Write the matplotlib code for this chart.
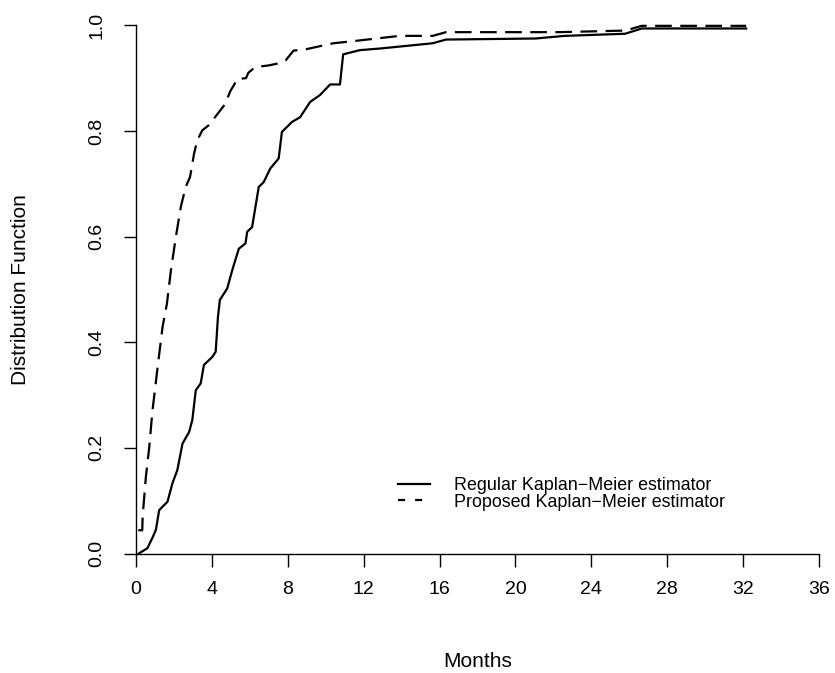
import matplotlib
matplotlib.use('Agg')
import matplotlib.pyplot as plt
from matplotlib.lines import Line2D

# Regular Kaplan-Meier estimator
reg_x = [0.15, 0.6, 0.87, 1.05, 1.22, 1.66, 1.92, 2.18, 2.45, 2.8, 2.97, 3.15, 3.41, 3.58,
         4.02, 4.2, 4.32, 4.42, 4.81, 5.07, 5.42, 5.77, 5.86, 6.12, 6.47, 6.73, 7.08, 7.52,
         7.69, 8.22, 8.65, 9.18, 9.7, 10.23, 10.75, 10.92, 11.8, 12.85, 15.64, 16.34, 21.06,
         22.6, 25.78, 26.66, 32.16]
reg_y = [0.0, 0.01, 0.03, 0.045, 0.082, 0.098, 0.133, 0.158, 0.208, 0.23, 0.253, 0.309, 0.322, 0.357,
         0.372, 0.382, 0.448, 0.48, 0.502, 0.536, 0.577, 0.587, 0.609, 0.618, 0.694, 0.703, 0.729, 0.748,
         0.798, 0.817, 0.826, 0.855, 0.868, 0.888, 0.888, 0.945, 0.953, 0.956, 0.966, 0.973, 0.975,
         0.98, 0.984, 0.994, 0.994]

# Proposed Kaplan-Meier estimator
prop_x = [0.12, 0.33, 0.35, 0.52, 0.7, 0.87, 1.14, 1.4, 1.63, 1.84, 2.1, 2.36, 2.62, 2.85,
          3.06, 3.23, 3.49, 3.84, 4.25, 4.68, 4.98, 5.15, 5.33, 5.8, 5.92, 6.29, 6.99, 7.52,
          7.9, 8.3, 9.0, 10.4, 11.45, 13.9, 15.64, 16.34, 22.3, 25.78, 26.66, 32.16]
prop_y = [0.044, 0.044, 0.07, 0.145, 0.202, 0.271, 0.353, 0.429, 0.473, 0.536, 0.599, 0.656, 0.694, 0.713,
          0.757, 0.782, 0.801, 0.811, 0.83, 0.85, 0.876, 0.886, 0.898, 0.9, 0.91, 0.921, 0.924, 0.928,
          0.934, 0.952, 0.955, 0.966, 0.970, 0.980, 0.980, 0.987, 0.987, 0.99, 0.999, 0.999]

xticks = [0, 4, 8, 12, 16, 20, 24, 28, 32, 36]
yticks = [0.0, 0.2, 0.4, 0.6, 0.8, 1.0]
labels = ['Regular Kaplan\u2212Meier estimator', 'Proposed Kaplan\u2212Meier estimator']

plt.rcParams['font.family'] = ['Liberation Sans', 'DejaVu Sans']

fig = plt.figure(figsize=(8.35, 6.73), dpi=100)
ax = fig.add_axes([136/835, 1-553.5/673, 683/835, 528.2/673])

lw = 1.6
ax.plot(reg_x, reg_y, color='black', lw=lw, clip_on=False)
ax.plot(prop_x, prop_y, color='black', lw=lw, ls=(0, (7.5, 3.8)), clip_on=False)

ax.set_xlim(0, 36)
ax.set_ylim(0, 1)
ax.set_xticks(xticks)
ax.set_yticks(yticks)
ax.set_yticklabels(['%.1f' % v for v in yticks], rotation=90, va='center')
for s in ['top', 'right']:
    ax.spines[s].set_visible(False)
for s in ['left', 'bottom']:
    ax.spines[s].set_linewidth(1.0)
ax.tick_params(axis='both', direction='out', length=9, width=1.0, labelsize=14)
ax.tick_params(axis='x', pad=11)
ax.tick_params(axis='y', pad=13)

ax.set_xlabel('Months', fontsize=15, va='top')
ax.xaxis.set_label_coords(0.5, (553.5-652)/528.2)
ax.set_ylabel('Distribution Function', fontsize=15, va='center')
ax.yaxis.set_label_coords((21-136)/683, 0.5)

handles = [Line2D([], [], color='black', lw=lw),
           Line2D([], [], color='black', lw=lw, ls=(0, (3.2, 4.5)))]
ax.legend(handles, labels, loc='center left', bbox_to_anchor=(398/835, 1-494/673),
          bbox_transform=fig.transFigure, frameon=False, fontsize=12.9,
          handlelength=1.8, handletextpad=1.3, borderpad=0, borderaxespad=0,
          labelspacing=-0.05)

fig.savefig('out.png', dpi=100)
